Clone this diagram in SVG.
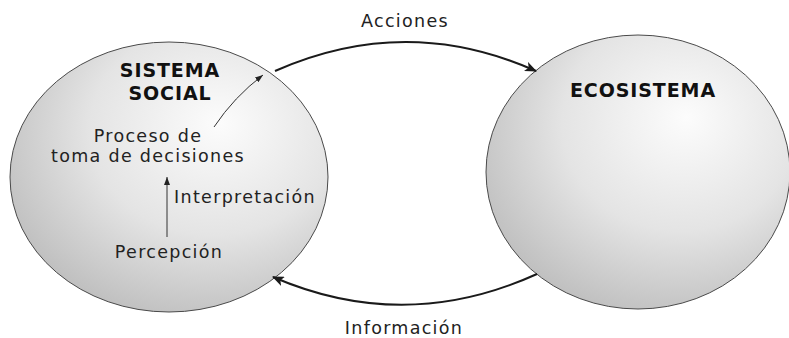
<svg xmlns="http://www.w3.org/2000/svg" width="789" height="338" viewBox="0 0 789 338">
<defs>
<radialGradient id="sphere" cx="0.62" cy="0.35" r="0.78" fx="0.66" fy="0.3">
<stop offset="0" stop-color="#fcfcfc"/>
<stop offset="0.5" stop-color="#e4e4e4"/>
<stop offset="1" stop-color="#b6b6b6"/>
</radialGradient>
<marker id="big" viewBox="0 0 12 10" refX="11" refY="5" markerWidth="12" markerHeight="10" markerUnits="userSpaceOnUse" orient="auto">
<path d="M0,0 L12,5 L0,10 L3,5 Z" fill="#1a1a1a"/>
</marker>
<marker id="small" viewBox="0 0 8 6" refX="8" refY="3" markerWidth="8" markerHeight="6" markerUnits="userSpaceOnUse" orient="auto">
<path d="M0,0 L8,3 L0,6 Z" fill="#222"/>
</marker>
</defs>
<style>
.node{fill:url(#sphere);stroke:#4a4a4a;stroke-width:1}
.t{font-family:"DejaVu Sans","Open Sans",sans-serif;fill:#222;font-size:17.5px;letter-spacing:1.3px;text-anchor:middle}
.b{font-family:"DejaVu Sans","Open Sans",sans-serif;fill:#111;font-size:19px;font-weight:bold;letter-spacing:0.9px;text-anchor:middle}
.c{fill:none;stroke:#1a1a1a;stroke-width:2}
.ci{fill:none;stroke:#333;stroke-width:1}
</style>
<rect width="789" height="338" fill="#fff"/>
<g id="sistema-social">
<ellipse class="node" cx="169" cy="177" rx="159" ry="135"/>
<text class="b" x="170" y="77">SISTEMA</text>
<text class="b" x="170" y="100">SOCIAL</text>
<text class="t" x="148" y="142">Proceso de</text>
<text class="t" x="148" y="162">toma de decisiones</text>
<text class="t" x="245" y="203">Interpretación</text>
<text class="t" x="169" y="258">Percepción</text>
</g>
<g id="ecosistema">
<ellipse class="node" cx="638" cy="172" rx="152" ry="137"/>
<text class="b" x="643" y="97">ECOSISTEMA</text>
</g>
<g id="connectors">
<path class="c" d="M275,71 Q406,13 536,71" marker-end="url(#big)"/>
<path class="c" d="M537,274 Q405,334 273,277" marker-end="url(#big)"/>
<path class="ci" d="M167,237 L167,177" marker-end="url(#small)"/>
<path class="ci" d="M214,127 Q234,97 263,75" marker-end="url(#small)"/>
<text class="t" x="405" y="27">Acciones</text>
<text class="t" x="404" y="334">Información</text>
</g>
</svg>
